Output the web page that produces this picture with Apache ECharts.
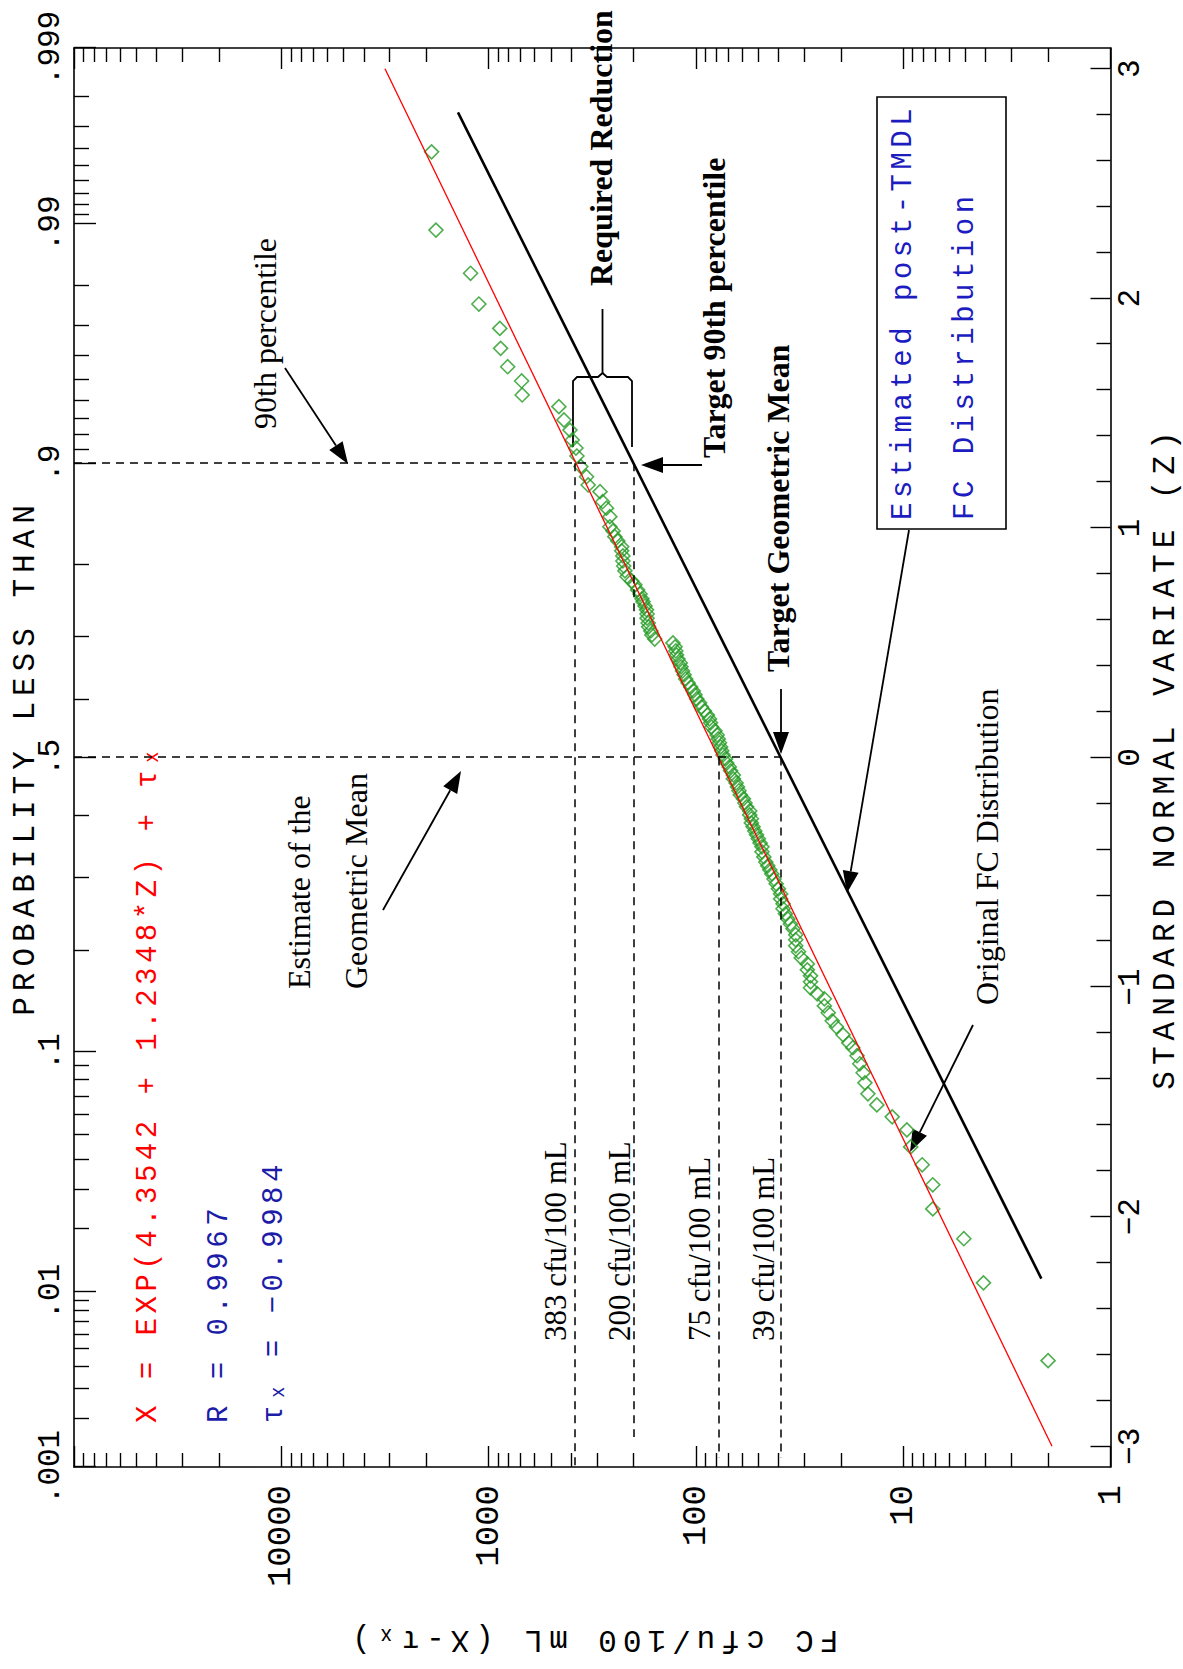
<!DOCTYPE html>
<html><head><meta charset="utf-8">
<script src="https://cdn.jsdelivr.net/npm/echarts/dist/echarts.min.js"></script>
<style>
html,body{margin:0;padding:0;background:#fff;overflow:hidden;width:1183px;height:1669px;}
#chart{position:absolute;left:0;top:0;width:1669px;height:1183px;transform-origin:0 0;transform:translate(0,1669px) rotate(-90deg);background:#fff;}
#chart text[style*="ttl"]{letter-spacing:6px;}
#chart text[style*="frm"]{letter-spacing:4.5px;}
</style></head><body><div id="chart"></div>
<script>
// ---------------- data ----------------
// standard normal variate of each plotted sample
const zScores = [
  2.638, 2.297, 2.109, 1.975, 1.869, 1.782, 1.702, 1.640, 1.579, 1.528, 1.470, 1.426, 1.383, 1.348, 1.313, 1.267, 1.223, 1.187, 1.158, 1.114, 1.086, 1.049,
  1.005, 0.987, 0.962, 0.943, 0.918, 0.900, 0.878, 0.856, 0.834, 0.813, 0.788, 0.769, 0.752, 0.730, 0.712, 0.691, 0.678, 0.660, 0.643, 0.625, 0.607, 0.586, 0.569, 0.551, 0.534, 0.516,
  0.499, 0.482, 0.464, 0.447, 0.429, 0.412, 0.395, 0.377, 0.360, 0.342, 0.325, 0.307, 0.290, 0.273, 0.255, 0.238, 0.220, 0.203, 0.185, 0.168, 0.151, 0.133, 0.116, 0.098, 0.081, 0.064, 0.046, 0.029, 0.011, -0.006,
  -0.024, -0.041, -0.058, -0.076, -0.093, -0.111, -0.128, -0.145, -0.163, -0.180, -0.198, -0.215, -0.233, -0.250, -0.267, -0.285, -0.302, -0.320, -0.337, -0.354, -0.372, -0.389, -0.411, -0.433, -0.455, -0.472, -0.489,
  -0.507, -0.529, -0.550, -0.572, -0.594, -0.616, -0.637, -0.659, -0.681, -0.703, -0.725, -0.746, -0.772, -0.794, -0.820, -0.846, -0.873, -0.899, -0.925, -0.951, -0.977, -1.003, -1.029, -1.051, -1.082, -1.112, -1.147, -1.173, -1.208, -1.243, -1.264, -1.299,
  -1.334, -1.373, -1.417, -1.465, -1.513, -1.565, -1.622, -1.696, -1.774, -1.861, -1.966, -2.096, -2.288, -2.627
];
// FC cfu/100 mL (X - tau_x) of each plotted sample
const fcValues = [
  1884, 1795, 1222, 1114, 883, 875, 809, 693, 689, 458, 433, 405, 395, 379, 375, 359, 337, 331, 290, 282, 270, 260,
  260, 251, 246, 238, 228, 228, 225, 225, 223, 220, 215, 204, 197, 191, 186, 182, 180, 176, 173, 172, 172, 170, 169, 165, 163, 158,
  129, 126, 125, 124, 122, 119, 118, 116, 114, 112, 109, 106, 103, 101, 99, 96, 94, 91, 88, 86, 85, 84, 81, 79, 78, 77, 76, 75, 74, 72,
  71, 69, 68, 66, 66, 64, 63, 62, 61, 59, 58, 57, 55, 55, 54, 54, 53, 52, 51, 50, 49, 48, 48, 47, 46, 45, 44,
  43, 42, 41, 40, 39, 39, 38, 38, 37, 36, 35, 34, 33, 33, 33, 32, 31, 29, 29, 28, 28, 28, 26, 24, 24, 23, 22, 21, 19.5, 18.3, 17.5, 16.7,
  16.2, 15.6, 15.3, 14.8, 13.4, 11.3, 9.6, 9.2, 8.1, 7.2, 7.2, 5.1, 4.1, 2.0
];
// fitted 3-parameter lognormal: X = EXP(a + b*Z) + tau
const fitA = 4.3542, fitB = 1.2348, fitTau = -0.9984, fitR = 0.9967;
const fitZRange = [-3, 3];
// target (post-TMDL) distribution
const targetGeoMean = 39, target90th = 200;
const targetZRange = [-2.27, 2.81];
// reference values (dashed)
const refFC = [383, 200, 78, 39];
const refFCLabels = ['383 cfu/100 mL', '200 cfu/100 mL', '75 cfu/100 mL', '39 cfu/100 mL'];
const refProbStart = [0.9, 0.9, 0.5, 0.5];
const refZEnd = [-3.0902, -2.96, -3.05, -3.05];
const guideProbs = [0.9, 0.5];
const guideFCEnd = [200, 39];
// axes
const probMajor = [0.001, 0.01, 0.1, 0.5, 0.9, 0.99, 0.999];
const probMajorLabels = ['.001', '.01', '.1', '.5', '.9', '.99', '.999'];
const probMinor = [0.002,0.003,0.004,0.005,0.006,0.007,0.008,0.009,
  0.02,0.03,0.04,0.05,0.06,0.07,0.08,0.09, 0.2,0.3,0.4,0.6,0.7,0.8,
  0.91,0.92,0.93,0.94,0.95,0.96,0.97,0.98, 0.991,0.992,0.993,0.994,0.995,0.996,0.997,0.998];
const zMajor = [-3, -2, -1, 0, 1, 2, 3];
const zMinor = [-2.8,-2.6,-2.4,-2.2,-1.8,-1.6,-1.4,-1.2,-0.8,-0.6,-0.4,-0.2,0.2,0.4,0.6,0.8,1.2,1.4,1.6,1.8,2.2,2.4,2.6,2.8];
const fcMajor = [1, 10, 100, 1000, 10000, 100000];
const fcLabelValues = [1, 10, 100, 1000, 10000];
const fcMinor = [2,3,4,5,6,7,8,9, 20,30,40,50,60,70,80,90, 200,300,400,500,600,700,800,900,
  2000,3000,4000,5000,6000,7000,8000,9000, 20000,30000,40000,50000,60000,70000,80000,90000];

// ---------------- helpers ----------------
function normInv(p) {
  const a=[-3.969683028665376e+01,2.209460984245205e+02,-2.759285104469687e+02,1.383577518672690e+02,-3.066479806614716e+01,2.506628277459239e+00];
  const b=[-5.447609879822406e+01,1.615858368580409e+02,-1.556989798598866e+02,6.680131188771972e+01,-1.328068155288572e+01];
  const c=[-7.784894002430293e-03,-3.223964580411365e-01,-2.400758277161838e+00,-2.549732539343734e+00,4.374664141464968e+00,2.938163982698783e+00];
  const d=[7.784695709041462e-03,3.224671290700398e-01,2.445134137142996e+00,3.754408661907416e+00];
  const pl=0.02425, ph=1-pl; let q, r;
  if (p < pl) { q=Math.sqrt(-2*Math.log(p)); return (((((c[0]*q+c[1])*q+c[2])*q+c[3])*q+c[4])*q+c[5])/((((d[0]*q+d[1])*q+d[2])*q+d[3])*q+1); }
  if (p <= ph) { q=p-0.5; r=q*q; return (((((a[0]*r+a[1])*r+a[2])*r+a[3])*r+a[4])*r+a[5])*q/(((((b[0]*r+b[1])*r+b[2])*r+b[3])*r+b[4])*r+1); }
  q=Math.sqrt(-2*Math.log(1-p)); return -(((((c[0]*q+c[1])*q+c[2])*q+c[3])*q+c[4])*q+c[5])/((((d[0]*q+d[1])*q+d[2])*q+d[3])*q+1);
}
const zLo = normInv(0.001), zHi = normInv(0.999);
const zProbMajor = probMajor.map(normInv);
const zProbMinor = probMinor.map(normInv);
const fitFC = z => Math.exp(fitA + fitB * z);
const tSlope = (Math.log(target90th) - Math.log(targetGeoMean)) / normInv(0.9);
const targetFC = z => Math.exp(Math.log(targetGeoMean) + tSlope * z);

const MONO = "'Liberation Mono', 'DejaVu Sans Mono', monospace";
const MONO_T = "'Liberation Mono', ttl, monospace";
const MONO_F = "'Liberation Mono', frm, monospace";
const SERIF = "'Liberation Serif', 'Times New Roman', serif";
const fmtZ = v => (v < 0 ? '\u2212' + Math.abs(v) : String(v));
const fmtP = v => { for (let i = 0; i < zProbMajor.length; i++) if (Math.abs(zProbMajor[i] - v) < 1e-6) return probMajorLabels[i]; return ''; };

const tickStyle = {color: '#000', width: 1.4};
const lineStyleAx = {color: '#000', width: 1.6};
function xAx(o) { return Object.assign({type: 'value', min: zLo, max: zHi, splitLine: {show: false},
  axisLine: {show: false, onZero: false}, axisTick: {show: false}, axisLabel: {show: false}}, o); }
function yAx(o) { return Object.assign({type: 'log', logBase: 10, min: 1, max: 100000, splitLine: {show: false},
  axisLine: {show: false, onZero: false}, axisTick: {show: false}, axisLabel: {show: false}}, o); }

// ---------------- annotations (pixel layout of the unrotated chart) ----------------
function arrow(x1, y1, x2, y2, len, half) {
  len = len || 22; half = half || 8;
  const dx = x2 - x1, dy = y2 - y1, L = Math.hypot(dx, dy), ux = dx / L, uy = dy / L;
  const bx = x2 - ux * len, by = y2 - uy * len;
  return [
    {type: 'line', silent: true, shape: {x1: x1, y1: y1, x2: bx, y2: by}, style: {stroke: '#000', lineWidth: 1.8}},
    {type: 'polygon', silent: true, shape: {points: [[x2, y2], [bx - uy * half, by + ux * half], [bx + uy * half, by - ux * half]]}, style: {fill: '#000'}}
  ];
}
function txt(s, x, y, font, size, color, weight) {
  return {type: 'text', silent: true, style: {text: s, x: x, y: y, fontFamily: font, fontSize: size,
    fontWeight: weight || 'normal', fill: color || '#000', align: 'left', textAlign: 'left', verticalAlign: 'middle', textVerticalAlign: 'middle'}};
}
const refLabelY = [555, 619, 699, 763];
const graphics = [].concat(
  [txt('90th percentile', 1240, 265, SERIF, 32),
   txt('Estimate of the', 680, 299, SERIF, 32),
   txt('Geometric Mean', 680, 356, SERIF, 32),
   txt('Required Reduction', 1383, 601, SERIF, 32, '#000', 'bold'),
   txt('Target 90th percentile', 1211, 714, SERIF, 32, '#000', 'bold'),
   txt('Target Geometric Mean', 997, 778, SERIF, 32, '#000', 'bold'),
   txt('Original FC Distribution', 664, 987, SERIF, 32),
   txt('X = EXP(4.3542 + 1.2348*Z) + \u03c4\u2093', 246, 148, MONO_F, 29, '#ff0000'),
   txt('R = ' + fitR.toFixed(4), 246, 219, MONO_F, 29, '#1c1ca8'),
   txt('\u03c4\u2093 = \u2212' + Math.abs(fitTau).toFixed(4), 246, 274, MONO_F, 29, '#1c1ca8'),
   {type: 'rect', silent: true, shape: {x: 1140, y: 877, width: 432, height: 129}, style: {fill: '#fff', stroke: '#000', lineWidth: 1.6}},
   txt('Estimated post-TMDL', 1149, 903, MONO_F, 29, '#1c1cc0'),
   txt('FC Distribution', 1149, 965, MONO_F, 29, '#1c1cc0'),
   {type: 'polyline', silent: true, shape: {points: [[1222, 573], [1288, 573], [1292, 577], [1292, 598], [1296, 602.5], [1360, 602.5]]}, style: {stroke: '#000', lineWidth: 1.8, fill: null}},
   {type: 'polyline', silent: true, shape: {points: [[1296, 602.5], [1292, 607], [1292, 628], [1288, 632], [1222, 632]]}, style: {stroke: '#000', lineWidth: 1.8, fill: null}}
  ],
  refFCLabels.map((s, i) => txt(s, 328, refLabelY[i], SERIF, 31)),
  arrow(1301, 285, 1205, 348),
  arrow(759, 383, 898, 461),
  arrow(1204, 702, 1204, 641),
  arrow(980, 781, 915, 781),
  arrow(1139, 909, 776, 847),
  arrow(644, 973, 517, 910)
);

// ---------------- dashed guides ----------------
const dashData = [];
guideProbs.forEach((p, i) => dashData.push([{coord: [normInv(p), 100000]}, {coord: [normInv(p), guideFCEnd[i]]}]));
refFC.forEach((v, i) => dashData.push([{coord: [normInv(refProbStart[i]), v]}, {coord: [refZEnd[i], v]}]));

const chart = echarts.init(document.getElementById('chart'), null, {renderer: 'svg', width: 1669, height: 1183});
chart.setOption({
  animation: false,
  backgroundColor: '#fff',
  grid: {left: 202, right: 48, top: 74, bottom: 72.5, containLabel: false, outerBoundsMode: 'none'},
  xAxis: [
    xAx({position: 'bottom',
      axisLine: {show: true, onZero: false, lineStyle: lineStyleAx},
      axisTick: {show: true, inside: true, length: 20, customValues: zMajor, lineStyle: tickStyle},
      axisLabel: {show: true, customValues: zMajor, margin: 4, fontFamily: MONO, fontSize: 31, color: '#000', formatter: fmtZ},
      name: 'STANDARD NORMAL VARIATE (Z)', nameLocation: 'middle', nameGap: 39, nameMoveOverlap: false,
      nameTextStyle: {fontFamily: MONO_T, fontSize: 31, color: '#000'}}),
    xAx({position: 'bottom', axisTick: {show: true, inside: true, length: 14, customValues: zMinor, lineStyle: tickStyle}}),
    xAx({position: 'top',
      axisLine: {show: true, onZero: false, lineStyle: lineStyleAx},
      axisTick: {show: true, inside: true, length: 22, customValues: zProbMajor, lineStyle: tickStyle},
      axisLabel: {show: true, customValues: zProbMajor, margin: 8, fontFamily: MONO, fontSize: 31, color: '#000', formatter: fmtP},
      name: 'PROBABILITY LESS THAN', nameLocation: 'middle', nameGap: 33, nameMoveOverlap: false,
      nameTextStyle: {fontFamily: MONO_T, fontSize: 31, color: '#000'}}),
    xAx({position: 'top', axisTick: {show: true, inside: true, length: 15, customValues: zProbMinor, lineStyle: tickStyle}})
  ],
  yAxis: [
    yAx({position: 'left',
      axisLine: {show: true, onZero: false, lineStyle: lineStyleAx},
      axisTick: {show: true, inside: true, length: 21, customValues: fcMajor, lineStyle: tickStyle},
      axisLabel: {show: true, customValues: fcLabelValues, margin: 18, fontFamily: MONO, fontSize: 34, color: '#000', formatter: v => String(Math.round(v))},
      name: 'FC cfu/100 mL (X-\u03c4\u2093)', nameLocation: 'middle', nameGap: 157,
      nameTextStyle: {fontFamily: MONO_T, fontSize: 31, color: '#000'}}),
    yAx({position: 'left', axisTick: {show: true, inside: true, length: 14, customValues: fcMinor, lineStyle: tickStyle}}),
    yAx({position: 'right',
      axisLine: {show: true, onZero: false, lineStyle: lineStyleAx},
      axisTick: {show: true, inside: true, length: 21, customValues: fcMajor, lineStyle: tickStyle}}),
    yAx({position: 'right', axisTick: {show: true, inside: true, length: 14, customValues: fcMinor, lineStyle: tickStyle}})
  ],
  graphic: {elements: graphics},
  series: [
    {type: 'line', name: 'guides', xAxisIndex: 0, yAxisIndex: 0, data: [], silent: true,
      markLine: {silent: true, symbol: ['none', 'none'], label: {show: false}, animation: false,
        lineStyle: {type: [8, 6], color: '#000', width: 1.5}, emphasis: {disabled: true}, data: dashData}},
    {type: 'line', name: 'fit', xAxisIndex: 0, yAxisIndex: 0, silent: true, symbol: 'none',
      lineStyle: {color: '#ff0000', width: 1.3}, data: fitZRange.map(z => [z, fitFC(z)])},
    {type: 'line', name: 'target', xAxisIndex: 0, yAxisIndex: 0, silent: true, symbol: 'none',
      lineStyle: {color: '#000', width: 2.6}, data: targetZRange.map(z => [z, targetFC(z)])},
    {type: 'scatter', name: 'samples', xAxisIndex: 0, yAxisIndex: 0, silent: true, symbol: 'diamond', symbolSize: [14, 14],
      itemStyle: {color: 'rgba(0,0,0,0)', borderColor: '#229a22', borderWidth: 1.6},
      data: zScores.map((z, i) => [z, fcValues[i]])}
  ]
});
</script></body></html>
